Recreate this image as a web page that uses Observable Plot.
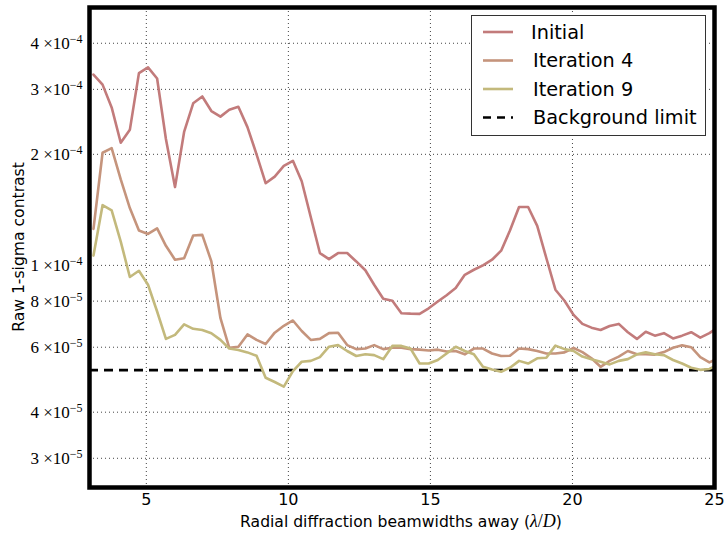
<!DOCTYPE html>
<html><head><meta charset="utf-8">
<script src="https://cdn.jsdelivr.net/npm/d3@7"></script>
<script src="https://cdn.jsdelivr.net/npm/@observablehq/plot@0.6"></script>
<style>
body{margin:0;background:#fff;}
#wrap{position:relative;width:726px;height:534px;}
#legend{position:absolute;left:471px;top:15px;}
</style></head><body><div id="wrap"></div>
<script>
// Radial separation (lambda/D)
const radius = [3.14,3.46,3.78,4.10,4.42,4.74,5.06,5.38,5.69,6.01,6.33,6.65,6.97,7.29,7.61,7.92,8.24,8.56,8.88,9.20,
  9.52,9.84,10.16,10.47,10.79,11.11,11.43,11.75,12.07,12.39,12.71,13.02,13.34,13.66,13.98,14.30,14.62,14.94,15.26,15.57,
  15.89,16.21,16.53,16.85,17.17,17.49,17.80,18.12,18.44,18.76,19.08,19.40,19.72,20.04,20.35,20.67,20.99,21.31,21.63,21.95,
  22.27,22.58,22.90,23.22,23.54,23.86,24.18,24.50,24.82,25.13];
const initial = [3.29e-4,3.09e-4,2.68e-4,2.15e-4,2.33e-4,3.32e-4,3.44e-4,3.21e-4,2.20e-4,1.63e-4,
  2.30e-4,2.75e-4,2.87e-4,2.62e-4,2.53e-4,2.64e-4,2.69e-4,2.37e-4,2.00e-4,1.67e-4,
  1.74e-4,1.86e-4,1.92e-4,1.69e-4,1.35e-4,1.08e-4,1.04e-4,1.08e-4,1.08e-4,1.025e-4,
  9.7e-5,8.86e-5,8.12e-5,8.02e-5,7.42e-5,7.40e-5,7.39e-5,7.65e-5,7.98e-5,8.30e-5,
  8.68e-5,9.43e-5,9.73e-5,1.00e-4,1.036e-4,1.096e-4,1.243e-4,1.44e-4,1.44e-4,1.28e-4,
  1.047e-4,8.59e-5,8.02e-5,7.34e-5,6.94e-5,6.78e-5,6.68e-5,6.85e-5,6.94e-5,6.59e-5,
  6.32e-5,6.61e-5,6.45e-5,6.55e-5,6.34e-5,6.45e-5,6.59e-5,6.37e-5,6.55e-5,6.79e-5];
const iteration4 = [1.256e-4,2.02e-4,2.08e-4,1.71e-4,1.43e-4,1.243e-4,1.217e-4,1.26e-4,1.13e-4,1.036e-4,
  1.045e-4,1.205e-4,1.21e-4,1.025e-4,7.19e-5,5.98e-5,6.02e-5,6.50e-5,6.28e-5,6.12e-5,
  6.57e-5,6.86e-5,7.09e-5,6.64e-5,6.28e-5,6.32e-5,6.55e-5,6.57e-5,6.08e-5,5.93e-5,
  5.95e-5,6.08e-5,5.93e-5,5.98e-5,5.98e-5,5.93e-5,5.91e-5,5.88e-5,5.91e-5,5.84e-5,
  5.86e-5,5.74e-5,5.95e-5,5.95e-5,5.77e-5,5.68e-5,5.69e-5,5.95e-5,5.93e-5,5.86e-5,
  5.77e-5,5.77e-5,5.81e-5,5.97e-5,5.82e-5,5.60e-5,5.31e-5,5.51e-5,5.66e-5,5.86e-5,
  5.74e-5,5.74e-5,5.73e-5,5.82e-5,5.98e-5,6.07e-5,6.00e-5,5.64e-5,5.46e-5,5.60e-5];
const iteration9 = [1.063e-4,1.456e-4,1.41e-4,1.16e-4,9.3e-5,9.67e-5,8.86e-5,7.50e-5,6.32e-5,6.48e-5,
  6.92e-5,6.73e-5,6.68e-5,6.55e-5,6.28e-5,5.95e-5,5.90e-5,5.81e-5,5.69e-5,4.96e-5,
  4.83e-5,4.69e-5,5.17e-5,5.48e-5,5.51e-5,5.64e-5,6.02e-5,6.08e-5,5.86e-5,5.68e-5,
  5.74e-5,5.71e-5,5.57e-5,6.05e-5,6.05e-5,5.95e-5,5.42e-5,5.42e-5,5.54e-5,5.77e-5,
  6.02e-5,5.86e-5,5.74e-5,5.31e-5,5.22e-5,5.15e-5,5.28e-5,5.51e-5,5.42e-5,5.60e-5,
  5.62e-5,6.06e-5,5.93e-5,5.86e-5,5.66e-5,5.57e-5,5.48e-5,5.39e-5,5.51e-5,5.57e-5,
  5.74e-5,5.81e-5,5.74e-5,5.71e-5,5.54e-5,5.42e-5,5.28e-5,5.21e-5,5.24e-5,5.38e-5];
const backgroundLimit = 5.2e-5;
const seriesNames = ["Initial", "Iteration 4", "Iteration 9"];
const seriesColors = ["#c27b7b", "#c5947c", "#c3b97c"];
const xTicks = [5, 10, 15, 20, 25];
const yTicks = [3e-5, 4e-5, 6e-5, 8e-5, 1e-4, 2e-4, 3e-4, 4e-4];

const seriesValues = [initial, iteration4, iteration9];
const rows = [];
seriesNames.forEach((name, k) => {
  radius.forEach((r, i) => rows.push({x: r, y: seriesValues[k][i], series: name}));
});

const sci = d => {
  const e = Math.floor(Math.log10(d) + 1e-9);
  const m = Math.round(d / Math.pow(10, e));
  return `${m} \u00d710^\u2212${-e}`;
};

const plot = Plot.plot({
  width: 726, height: 534,
  marginLeft: 89, marginRight: 12, marginTop: 7, marginBottom: 47,
  x: {domain: [3, 25]},
  y: {type: "log", domain: [2.5e-5, 5e-4]},
  color: {domain: seriesNames, range: seriesColors},
  style: {fontFamily: "DejaVu Sans", fontSize: "16px", color: "black", background: "white", overflow: "visible"},
  marks: [
    Plot.gridX(xTicks.slice(0, 4), {stroke: "#444", strokeOpacity: 1, strokeWidth: 1, strokeDasharray: "1,3"}),
    Plot.gridY(yTicks, {stroke: "#444", strokeOpacity: 1, strokeWidth: 1, strokeDasharray: "1,3"}),
    Plot.ruleY([backgroundLimit], {stroke: "black", strokeWidth: 2.6, strokeDasharray: "9,6"}),
    Plot.line(rows, {x: "x", y: "y", z: "series", stroke: "series", strokeWidth: 2.6, clip: true}),
    Plot.frame({stroke: "black", strokeWidth: 4.5}),
    Plot.axisX(xTicks, {tickSize: 0, tickPadding: 6, label: null, fontSize: 16}),
    Plot.axisY(yTicks, {tickSize: 0, tickPadding: 7, label: null, tickFormat: sci, fontFamily: "Liberation Serif", fontSize: 17})
  ]
});

const svg = d3.select(plot);
// mathtext-like superscripts on y tick labels
svg.selectAll('g[aria-label="y-axis tick label"] text').each(function() {
  const t = d3.select(this);
  const parts = t.text().split("^");
  t.text("");
  t.append("tspan").text(parts[0]);
  t.append("tspan").attr("dy", "-0.5em").attr("font-size", "12px").text(parts[1]);
});
// axis titles
const xl = svg.append("text").attr("x", 401).attr("y", 527).attr("text-anchor", "middle")
  .attr("font-family", "DejaVu Sans").attr("font-size", 15.6).attr("fill", "black");
xl.append("tspan").text("Radial diffraction beamwidths away (");
xl.append("tspan").attr("font-family", "Liberation Serif").attr("font-style", "italic").attr("font-size", 18).text("\u03bb");
xl.append("tspan").attr("font-family", "Liberation Serif").attr("font-size", 18).text("/");
xl.append("tspan").attr("font-family", "Liberation Serif").attr("font-style", "italic").attr("font-size", 18).text("D");
xl.append("tspan").text(")");
svg.append("text").attr("transform", "translate(24,247) rotate(-90)").attr("text-anchor", "middle")
  .attr("font-family", "DejaVu Sans").attr("font-size", 15.6).attr("fill", "black").text("Raw 1-sigma contrast");

document.getElementById("wrap").appendChild(plot);

// legend
const legendItems = seriesNames.map((n, i) => ({name: n, color: seriesColors[i], dash: null}))
  .concat([{name: "Background limit", color: "black", dash: "8,6"}]);
const lg = d3.select("#wrap").append("svg").attr("id", "legend").attr("width", 236).attr("height", 122);
lg.append("rect").attr("x", 0.5).attr("y", 0.5).attr("width", 234).attr("height", 120)
  .attr("fill", "white").attr("stroke", "#333").attr("stroke-width", 1);
legendItems.forEach((d, i) => {
  const cy = 17 + i * 28.5;
  lg.append("line").attr("x1", 12).attr("x2", 42).attr("y1", cy).attr("y2", cy)
    .attr("stroke", d.color).attr("stroke-width", 2.6).attr("stroke-dasharray", d.dash);
  lg.append("text").attr("x", i === 0 ? 60 : 62).attr("y", cy).attr("dy", "0.36em")
    .attr("font-family", "DejaVu Sans").attr("font-size", 19.3).attr("fill", "black").text(d.name);
});
</script></body></html>
